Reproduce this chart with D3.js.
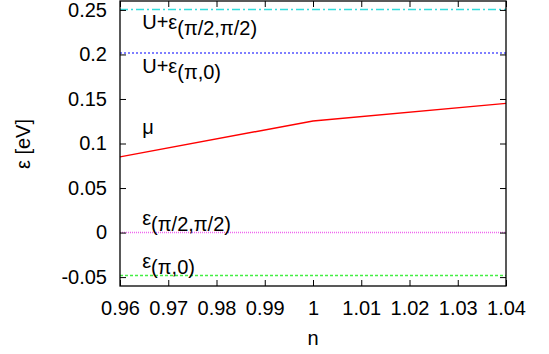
<!DOCTYPE html>
<html><head><meta charset="utf-8">
<script src="https://cdn.jsdelivr.net/npm/d3@7"></script>
<style>body{margin:0;background:#fff;} text{font-family:"Liberation Sans",Arial,sans-serif;}</style>
</head><body><svg id="c" width="549" height="354"></svg>
<script>
const xDomain = [0.96, 1.04];
const yDomain = [-0.06, 0.26];
const xTicks = [0.96, 0.97, 0.98, 0.99, 1.0, 1.01, 1.02, 1.03, 1.04];
const yTicks = [-0.05, 0, 0.05, 0.1, 0.15, 0.2, 0.25];
const muN = [0.96, 1.0, 1.04];
const muE = [0.085, 0.1253, 0.1451];
const levelNames = ["Upi2", "Upi0", "pi2", "pi0"];
const levelValues = [0.2505, 0.2015, 0.0, -0.0482];
const levelColors = ["#33dddd", "#5555ff", "#ee66ee", "#44ee44"];
const levelDash = ["8,3,2,3", "2,2", "1,1", "3,2"];
const labelMain = ["U+ε", "U+ε", "ε", "ε", "μ"];
const labelSub = ["(π/2,π/2)", "(π,0)", "(π/2,π/2)", "(π,0)", ""];
const labelAt = [[0.9646, 0.2285], [0.9646, 0.1795], [0.9646, 0.0083], [0.9646, -0.0395], [0.9646, 0.1105]];

const svg = d3.select("#c");
const L = 120, R = 506, T = 1, B = 286;
const x = d3.scaleLinear().domain(xDomain).range([L, R]);
const y = d3.scaleLinear().domain(yDomain).range([B, T]);
const fs = 20;

// levels
levelValues.forEach((v, i) => {
  svg.append("line").attr("x1", x(xDomain[0])).attr("x2", x(xDomain[1]))
    .attr("y1", y(v)).attr("y2", y(v))
    .attr("stroke", levelColors[i]).attr("stroke-width", 1.5)
    .attr("stroke-dasharray", levelDash[i]);
});
// mu
svg.append("path").datum(muN.map((n, i) => [n, muE[i]]))
  .attr("d", d3.line().x(d => x(d[0])).y(d => y(d[1])))
  .attr("fill", "none").attr("stroke", "#ff0000").attr("stroke-width", 1.4);

// axes
const fmt = d => (d === 1 ? "1" : String(+d.toFixed(2)));
const ax = svg.append("g");
ax.append("g").attr("transform", `translate(0,${B})`)
  .call(d3.axisBottom(x).tickValues(xTicks).tickSize(-6).tickPadding(15).tickFormat(fmt));
ax.append("g").attr("transform", `translate(0,${T})`)
  .call(d3.axisTop(x).tickValues(xTicks).tickSize(-6).tickFormat(""));
ax.append("g").attr("transform", `translate(${L},0)`)
  .call(d3.axisLeft(y).tickValues(yTicks).tickSize(-6).tickPadding(13).tickFormat(d => String(+d.toFixed(2))));
ax.append("g").attr("transform", `translate(${R},0)`)
  .call(d3.axisRight(y).tickValues(yTicks).tickSize(-6).tickFormat(""));
ax.selectAll(".domain").remove();
ax.selectAll("text").attr("font-size", fs).attr("font-family", "Liberation Sans, Arial, sans-serif").attr("fill", "#000");
ax.selectAll("line").attr("stroke", "#000");
svg.append("rect").attr("x", L).attr("y", T).attr("width", R - L).attr("height", B - T)
  .attr("fill", "none").attr("stroke", "#000").attr("stroke-width", 1.3);

// labels
labelMain.forEach((m, i) => {
  const t = svg.append("text").attr("x", x(labelAt[i][0])).attr("y", y(labelAt[i][1]))
    .attr("font-size", fs).attr("fill", "#000");
  t.append("tspan").text(m);
  if (labelSub[i]) t.append("tspan").attr("dy", 6).text(labelSub[i]);
});

// titles
svg.append("text").attr("x", 313).attr("y", 345).attr("text-anchor", "middle")
  .attr("font-size", fs).text("n");
svg.append("text").attr("transform", "translate(30,144) rotate(-90)")
  .attr("text-anchor", "middle").attr("font-size", fs).text("ε [eV]");
</script></body></html>
